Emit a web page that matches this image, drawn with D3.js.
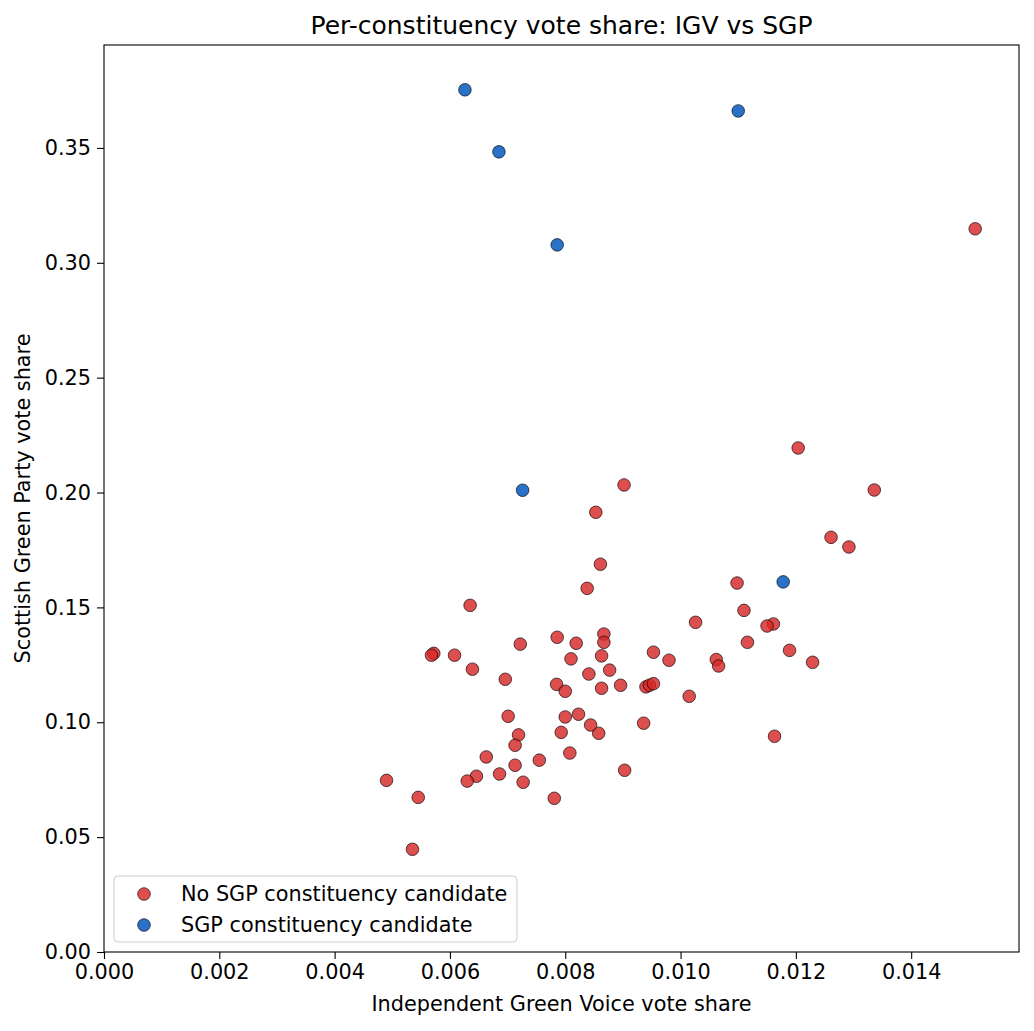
<!DOCTYPE html>
<meta charset="utf-8">
<style>
    body { margin: 0; background: white; }
    svg { display: block; font-family: "DejaVu Sans", sans-serif; }
</style>
<svg width="1034" height="1031"></svg>
<script src="https://cdn.jsdelivr.net/npm/d3@7"></script>
<script>
    // IGV vote share / SGP vote share, constituencies with no SGP candidate
    var noCandX = [0.01511, 0.01204, 0.01336, 0.00902, 0.00853, 0.01261, 0.01292, 0.00861, 0.00838, 0.01098,
        0.01110, 0.01026, 0.01161, 0.01150, 0.01116, 0.01189, 0.01229, 0.00867, 0.00867, 0.00863,
        0.00953, 0.00980, 0.01062, 0.01066, 0.00877, 0.00896, 0.00863, 0.00940, 0.00946, 0.00953,
        0.01015, 0.00936, 0.00858, 0.01163, 0.00903, 0.00635, 0.00786, 0.00819, 0.00722, 0.00572,
        0.00568, 0.00608, 0.00810, 0.00639, 0.00841, 0.00696, 0.00785, 0.00800, 0.00701, 0.00800,
        0.00823, 0.00844, 0.00793, 0.00719, 0.00713, 0.00808, 0.00663, 0.00755, 0.00713, 0.00686,
        0.00646, 0.00630, 0.00727, 0.00490, 0.00545, 0.00781, 0.00535];
    var noCandY = [0.3148, 0.2194, 0.2011, 0.2033, 0.1914, 0.1805, 0.1763, 0.1688, 0.1583, 0.1606,
        0.1487, 0.1435, 0.1428, 0.1419, 0.1348, 0.1313, 0.1261, 0.1384, 0.1348, 0.1289,
        0.1305, 0.1270, 0.1273, 0.1245, 0.1227, 0.1161, 0.1148, 0.1154, 0.1161, 0.1168,
        0.1113, 0.0996, 0.0952, 0.0939, 0.0791, 0.1509, 0.1370, 0.1344, 0.1340, 0.1300,
        0.1292, 0.1292, 0.1276, 0.1231, 0.1210, 0.1187, 0.1165, 0.1135, 0.1026, 0.1023,
        0.1035, 0.0988, 0.0956, 0.0945, 0.0900, 0.0866, 0.0849, 0.0835, 0.0813, 0.0775,
        0.0765, 0.0744, 0.0739, 0.0747, 0.0673, 0.0669, 0.0447];

    // constituencies with an SGP candidate
    var candX = [0.00626, 0.00685, 0.01100, 0.00786, 0.00726, 0.01178];
    var candY = [0.3753, 0.3483, 0.3661, 0.3078, 0.2010, 0.1611];

    var xTicks = [0, 0.002, 0.004, 0.006, 0.008, 0.010, 0.012, 0.014];
    var yTicks = [0, 0.05, 0.10, 0.15, 0.20, 0.25, 0.30, 0.35];

    var svg = d3.select("svg"),
        mLeft = 104, mRight = 1019, mTop = 45, mBottom = 952,
        r = 6.3,
        fs = 20.8;

    var x = d3.scaleLinear().domain([0, 0.01587]).range([mLeft, mRight]);
    var y = d3.scaleLinear().domain([0, 0.3948]).range([mBottom, mTop]);

    function styleAxis(g) {
        g.select(".domain").remove();
        g.selectAll("line").attr("stroke", "#000").attr("stroke-width", 1.1);
        g.selectAll("text").attr("font-size", fs).attr("font-family", "DejaVu Sans").attr("fill", "#000");
    }

    svg.append("g")
        .attr("transform", "translate(0," + mBottom + ")")
        .call(d3.axisBottom(x).tickValues(xTicks).tickFormat(d3.format(".3f")).tickSize(7).tickPadding(5))
        .call(styleAxis);

    svg.append("g")
        .attr("transform", "translate(" + mLeft + ",0)")
        .call(d3.axisLeft(y).tickValues(yTicks).tickFormat(d3.format(".2f")).tickSize(7).tickPadding(6))
        .call(styleAxis);

    var noCand = noCandX.map(function(d, i) { return { x: d, y: noCandY[i] }; });
    var cand = candX.map(function(d, i) { return { x: d, y: candY[i] }; });

    svg.append("g").selectAll("circle")
        .data(noCand)
        .enter().append("circle")
        .attr("cx", function(d) { return x(d.x); })
        .attr("cy", function(d) { return y(d.y); })
        .attr("r", r)
        .style("fill", "#d62728")
        .style("fill-opacity", 0.82)
        .style("stroke", "#000")
        .style("stroke-opacity", 0.8)
        .style("stroke-width", 0.8);

    svg.append("g").selectAll("circle")
        .data(cand)
        .enter().append("circle")
        .attr("cx", function(d) { return x(d.x); })
        .attr("cy", function(d) { return y(d.y); })
        .attr("r", r)
        .style("fill", "#2a72c8")
        .style("stroke", "#000")
        .style("stroke-opacity", 0.8)
        .style("stroke-width", 0.8);

    // frame
    svg.append("rect")
        .attr("x", mLeft).attr("y", mTop)
        .attr("width", mRight - mLeft).attr("height", mBottom - mTop)
        .style("fill", "none").style("stroke", "#000").style("stroke-width", 1.1);

    svg.append("text")
        .attr("x", (mLeft + mRight) / 2).attr("y", 34)
        .attr("text-anchor", "middle").attr("font-size", 25)
        .text("Per-constituency vote share: IGV vs SGP");

    svg.append("text")
        .attr("x", (mLeft + mRight) / 2).attr("y", 1011)
        .attr("text-anchor", "middle").attr("font-size", fs)
        .text("Independent Green Voice vote share");

    svg.append("text")
        .attr("transform", "translate(30," + (mTop + mBottom) / 2 + ") rotate(-90)")
        .attr("text-anchor", "middle").attr("font-size", fs)
        .text("Scottish Green Party vote share");

    // legend
    var legend = svg.append("g").attr("transform", "translate(114,876)");
    legend.append("rect")
        .attr("width", 403).attr("height", 66).attr("rx", 4)
        .style("fill", "white").style("fill-opacity", 0.8)
        .style("stroke", "#ccc").style("stroke-width", 1);

    var entries = [
        { label: "No SGP constituency candidate", fill: "#d62728", op: 0.82 },
        { label: "SGP constituency candidate", fill: "#2a72c8", op: 1 }
    ];
    entries.forEach(function(e, i) {
        legend.append("circle")
            .attr("cx", 30).attr("cy", 18 + i * 31).attr("r", r)
            .style("fill", e.fill).style("fill-opacity", e.op)
            .style("stroke", "#000").style("stroke-opacity", 0.8).style("stroke-width", 0.8);
        legend.append("text")
            .attr("x", 67).attr("y", 25 + i * 31)
            .attr("font-size", fs)
            .text(e.label);
    });
</script>
